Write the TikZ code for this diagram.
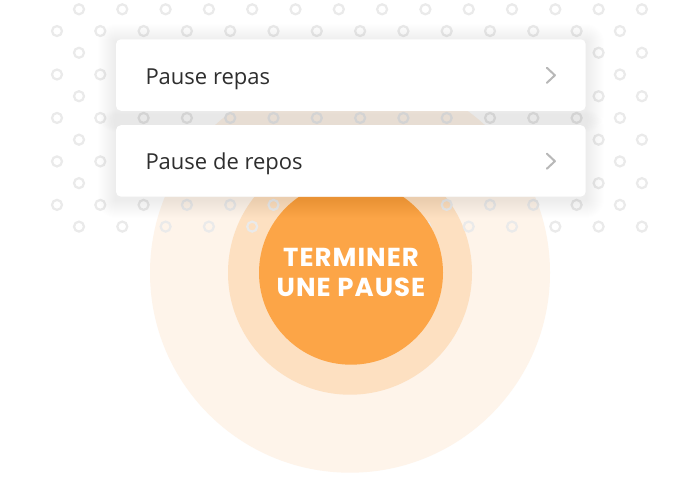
\documentclass[tikz,border=0pt]{standalone}
\usepackage{fontspec}
\setmainfont{Open Sans}
\newfontfamily\btnfont{Poppins}[LetterSpace=4]
\usetikzlibrary{positioning}

\definecolor{haloA}{HTML}{FEF4EA}
\definecolor{haloB}{HTML}{FDE0C1}
\definecolor{btnorange}{HTML}{FCA547}
\definecolor{ringgray}{HTML}{EAEAEA}
\definecolor{textgray}{HTML}{2E2E2E}
\definecolor{chevgray}{HTML}{B8B8B8}

\begin{document}
\begin{tikzpicture}
  [x=1pt,y=-1pt,
   halo/.style={circle,inner sep=0pt,minimum size=#1},
   ring/.style={draw=ringgray,line width=2.2pt},
   card/.style={fill=white,rounded corners=5pt,minimum width=469.7pt,minimum height=71.5pt,inner sep=0pt},
   item/.style={font=\fontsize{22}{26}\selectfont,text=textgray,inner sep=0pt,anchor=base west},
   chev/.style={draw=chevgray,line width=2pt,line cap=round,line join=round}]
  \useasboundingbox (0,0) rectangle (700,490);
  \fill[white] (0,0) rectangle (700,490);

  % halo circles behind the dots
  \node[halo=400pt,fill=haloA] (outer) at (350,272.7) {};
  \node[halo=244pt,fill=haloB] (middle) at (350,272.7) {};

  % dot grid
  \foreach \j in {0,...,10}{
    \pgfmathsetmacro{\xo}{isodd(\j) ? 57 : 79}
    \foreach \k in {0,...,13}
      \draw[ring] (\xo+43.3*\k,9.3+21.73*\j) circle (5);
  }

  % button
  \node[halo=184pt,fill=btnorange,align=center,text=white,
        font=\btnfont\bfseries\fontsize{26}{29.5}\selectfont] (btn) at (351,272.7) {TERMINER\\UNE PAUSE};

  % cards
  \node[card] (repas) at (350.85,75) {};
  \node[card,below=14pt of repas] (repos) {};
  \foreach \c in {repas,repos}
    \foreach \i [evaluate=\i as \r using 5+\i] in {1,...,18}
      \fill[black,opacity=.0052,rounded corners=\r pt]
        ([shift={(-\i,-\i+3)}]\c.north west) rectangle ([shift={(\i,\i+3)}]\c.south east);
  \node[card] at (repas) {};
  \node[card] at (repos) {};

  \node[item] (repasTxt) at ([shift={(29.5,9.1)}]repas.west) {Pause repas};
  \node[item] (reposTxt) at ([shift={(29.5,8.3)}]repos.west) {Pause de repos};

  \foreach \c in {repas,repos}
    \draw[chev] ([shift={(-39,-7.2)}]\c.east) -- ([shift={(-31,0.3)}]\c.east) -- ([shift={(-39,7.8)}]\c.east);
\end{tikzpicture}
\end{document}
